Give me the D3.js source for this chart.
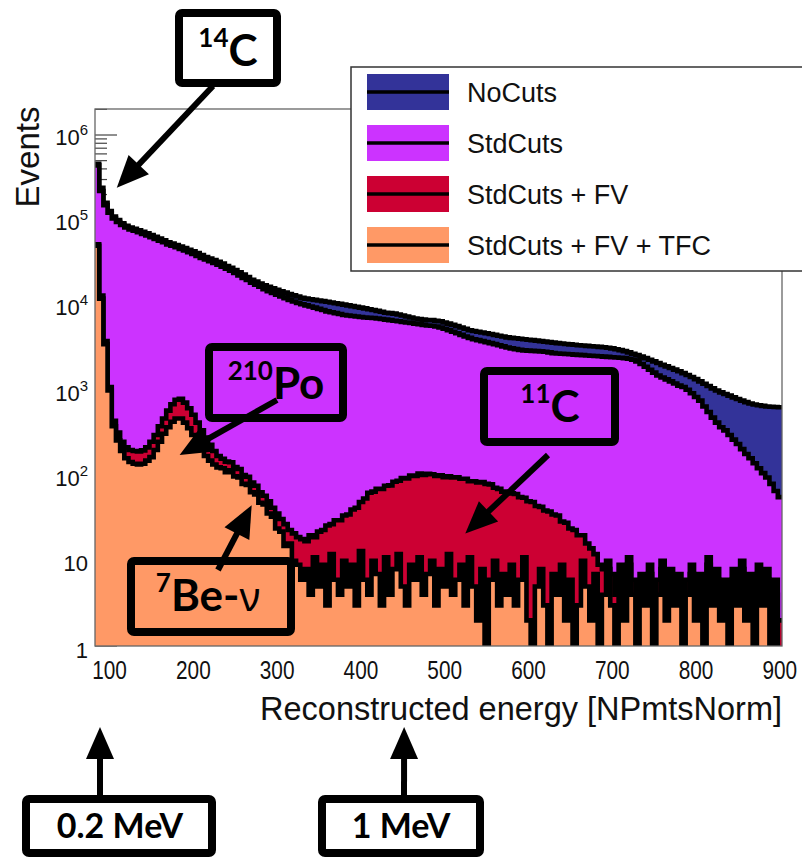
<!DOCTYPE html>
<html>
<head>
<meta charset="utf-8">
<script src="https://cdn.jsdelivr.net/npm/d3@7"></script>
<style>
  body { margin: 0; background: #fff; }
  svg text { font-family: "Liberation Sans", Arial, sans-serif; }
  .ann { font-family: Lato, "Open Sans", sans-serif; font-weight: bold; }
</style>
</head>
<body>
<svg id="chart" width="802" height="860"></svg>
<script>
// histogram binning (NPmtsNorm)
const binStart = 85, binWidth = 5;

// counts per 5-unit bin (164 bins, 85..905)
const noCuts = [
  4.6e5, 2.4e5, 1.6e5, 1.28e5, 1.1e5, 1.0e5, 9.2e4, 8.6e4, 8.2e4, 7.9e4,
  7.6e4, 7.3e4, 7.0e4, 6.7e4, 6.4e4, 6.1e4, 5.8e4, 5.5e4, 5.3e4, 5.1e4,
  4.9e4, 4.7e4, 4.5e4, 4.3e4, 4.1e4, 3.9e4, 3.7e4, 3.55e4, 3.4e4, 3.25e4,
  3.1e4, 2.9e4, 2.75e4, 2.6e4, 2.45e4, 2.3e4, 2.15e4, 2.0e4, 1.9e4, 1.8e4,
  1.72e4, 1.65e4, 1.58e4, 1.52e4, 1.46e4, 1.41e4, 1.36e4, 1.31e4, 1.27e4, 1.23e4,
  1.2e4, 1.18e4, 1.16e4, 1.14e4, 1.12e4, 1.1e4, 1.08e4, 1.06e4, 1.04e4, 1.02e4,
  1.0e4, 9.8e3, 9.6e3, 9.4e3, 9.2e3, 9.0e3, 8.8e3, 8.6e3, 8.4e3, 8.2e3,
  8.1e3, 8.0e3, 7.8e3, 7.6e3, 7.4e3, 7.2e3, 7.0e3, 6.9e3, 6.8e3, 6.7e3,
  6.7e3, 6.6e3, 6.5e3, 6.3e3, 6.1e3, 5.9e3, 5.7e3, 5.5e3, 5.3e3, 5.1e3,
  5.0e3, 4.9e3, 4.8e3, 4.7e3, 4.6e3, 4.5e3, 4.4e3, 4.3e3, 4.2e3, 4.15e3,
  4.1e3, 4.05e3, 4.0e3, 3.95e3, 3.9e3, 3.85e3, 3.8e3, 3.75e3, 3.7e3, 3.65e3,
  3.6e3, 3.56e3, 3.52e3, 3.48e3, 3.44e3, 3.4e3, 3.37e3, 3.34e3, 3.31e3, 3.28e3,
  3.25e3, 3.22e3, 3.18e3, 3.12e3, 3.05e3, 2.98e3, 2.9e3, 2.8e3, 2.7e3, 2.6e3,
  2.5e3, 2.4e3, 2.3e3, 2.2e3, 2.1e3, 2.0e3, 1.92e3, 1.84e3, 1.76e3, 1.68e3,
  1.6e3, 1.52e3, 1.44e3, 1.36e3, 1.28e3, 1.2e3, 1.13e3, 1.06e3, 1.0e3, 950,
  910, 870, 830, 795, 760, 730, 705, 685, 670, 660,
  650, 645, 640, 635
];
const stdCuts = [
  4.4e5, 2.2e5, 1.5e5, 1.22e5, 1.05e5, 9.5e4, 8.8e4, 8.2e4, 7.8e4, 7.5e4,
  7.2e4, 6.9e4, 6.6e4, 6.3e4, 6.0e4, 5.75e4, 5.5e4, 5.2e4, 5.0e4, 4.8e4,
  4.6e4, 4.4e4, 4.2e4, 4.0e4, 3.8e4, 3.6e4, 3.45e4, 3.3e4, 3.15e4, 3.0e4,
  2.85e4, 2.7e4, 2.55e4, 2.4e4, 2.25e4, 2.1e4, 1.98e4, 1.85e4, 1.75e4, 1.65e4,
  1.55e4, 1.47e4, 1.4e4, 1.33e4, 1.27e4, 1.21e4, 1.16e4, 1.11e4, 1.07e4, 1.03e4,
  1.0e4, 9.7e3, 9.4e3, 9.1e3, 8.8e3, 8.5e3, 8.3e3, 8.1e3, 7.9e3, 7.7e3,
  7.6e3, 7.5e3, 7.4e3, 7.3e3, 7.2e3, 7.15e3, 7.1e3, 7.0e3, 6.9e3, 6.8e3,
  6.7e3, 6.6e3, 6.5e3, 6.4e3, 6.3e3, 6.2e3, 6.1e3, 6.0e3, 5.9e3, 5.8e3,
  5.75e3, 5.65e3, 5.5e3, 5.3e3, 5.1e3, 4.9e3, 4.7e3, 4.5e3, 4.3e3, 4.15e3,
  4.0e3, 3.9e3, 3.8e3, 3.7e3, 3.6e3, 3.5e3, 3.4e3, 3.3e3, 3.2e3, 3.12e3,
  3.06e3, 3.0e3, 2.96e3, 2.94e3, 2.92e3, 2.9e3, 2.88e3, 2.85e3, 2.8e3, 2.75e3,
  2.72e3, 2.7e3, 2.68e3, 2.66e3, 2.64e3, 2.62e3, 2.6e3, 2.58e3, 2.56e3, 2.54e3,
  2.52e3, 2.5e3, 2.48e3, 2.46e3, 2.44e3, 2.42e3, 2.4e3, 2.36e3, 2.3e3, 2.2e3,
  2.05e3, 1.9e3, 1.75e3, 1.62e3, 1.5e3, 1.42e3, 1.35e3, 1.28e3, 1.21e3, 1.14e3,
  1.1e3, 1.02e3, 930, 840, 760, 650, 560, 480, 420, 370,
  340, 300, 265, 235, 205, 180, 160, 140, 122, 107,
  95, 80, 66, 56
];
const stdCutsFV = [
  5.2e4, 1.3e4, 3.8e3, 1.1e3, 440, 320, 250, 215, 200, 195,
  192, 198, 215, 250, 300, 380, 470, 580, 690, 780,
  800, 720, 620, 520, 420, 340, 280, 230, 195, 170,
  158, 146, 144, 126, 120, 102, 97, 83, 76, 64,
  58, 50, 42, 36, 31, 27, 23, 21, 19, 18,
  17, 20, 19, 22, 23, 26, 27, 30, 30, 34,
  35, 40, 42, 49, 54, 63, 65, 70, 70, 76,
  77, 85, 87, 94, 93, 100, 99, 106, 102, 105,
  104, 99, 101, 96, 98, 95, 96, 92, 92, 86,
  86, 83, 84, 80, 79, 72, 70, 65, 65, 62,
  61, 56, 55, 50, 49, 44, 43, 39, 38, 35,
  34, 29, 28, 24, 23, 20, 20, 16, 14, 12,
  9, 8, 10, 7, 4, 9, 5, 11, 6, 3,
  7, 5, 9, 3, 6, 10, 4, 8, 5, 7,
  3, 6, 9, 4, 7, 2, 11, 5, 8, 4,
  6, 2, 8, 5, 10, 4, 7, 3, 9, 5,
  8, 3, 6, 2
];
const stdCutsFVTFC = [
  5.0e4, 1.2e4, 3.5e3, 1.0e3, 380, 260, 195, 160, 145, 138,
  135, 138, 150, 165, 200, 250, 310, 370, 430, 470,
  470, 420, 360, 300, 250, 205, 170, 150, 135, 125,
  122, 110, 116, 98, 95, 80, 78, 64, 60, 48,
  46, 36, 33, 24, 22, 15, 16, 10, 9, 6,
  8, 4, 11, 5, 9, 3, 12, 6, 4, 10,
  5, 9, 3, 13, 6, 4, 10, 7, 3, 11,
  4, 8, 12, 5, 3, 9, 6, 11, 4, 7,
  10, 3, 8, 5, 12, 4, 6, 9, 3, 11,
  5, 2, 8, 0, 6, 10, 3, 7, 4, 9,
  3, 6, 11, 2, 0, 5, 8, 3, 0, 7,
  4, 9, 2, 6, 0, 3, 10, 5, 2, 7,
  0, 4, 8, 3, 0, 6, 2, 9, 4, 0,
  5, 3, 7, 0, 4, 8, 2, 6, 3, 5,
  0, 4, 7, 2, 5, 0, 9, 3, 6, 2,
  4, 0, 6, 3, 8, 2, 5, 0, 7, 3,
  6, 0, 4, 0
];

const legendLabels = ["NoCuts", "StdCuts", "StdCuts + FV", "StdCuts + FV + TFC"];
const seriesColors = ["#333399", "#cc33ff", "#cc0033", "#ff9966"];
const xTicks = [100, 200, 300, 400, 500, 600, 700, 800, 900];
const yTicks = [1, 10, 100, 1e3, 1e4, 1e5, 1e6];

var svg = d3.select("#chart"),
    margin = {top: 109, left: 95, bottom: 214, right: 20},
    width = 802 - margin.left - margin.right,
    height = 860 - margin.top - margin.bottom;

var x = d3.scaleLinear().domain([85, 905]).range([margin.left, margin.left + width]);
var y = d3.scaleLog().domain([1, 2.02e6]).range([margin.top + height, margin.top]);
var yBottom = margin.top + height;

var edges = d3.range(noCuts.length + 1).map(i => binStart + i * binWidth);

// axis ticks first: the filled histograms cover most of them
var ticks = svg.append("g").attr("stroke", "#444").attr("stroke-width", 1.2);
var yMinor = [];
yTicks.forEach(d => { for (let k = 2; k <= 9; k++) if (d * k < y.domain()[1]) yMinor.push(d * k); });
ticks.selectAll(".ymaj").data(yTicks).join("line")
    .attr("x1", margin.left).attr("x2", margin.left + 22)
    .attr("y1", d => y(d)).attr("y2", d => y(d));
ticks.selectAll(".ymin").data(yMinor).join("line")
    .attr("x1", margin.left).attr("x2", margin.left + 12)
    .attr("y1", d => y(d)).attr("y2", d => y(d));
ticks.selectAll(".xmaj").data(xTicks).join("line")
    .attr("x1", d => x(d)).attr("x2", d => x(d))
    .attr("y1", yBottom).attr("y2", yBottom - 16);

svg.append("clipPath").attr("id", "plotClip").append("rect")
    .attr("x", margin.left).attr("y", margin.top).attr("width", width).attr("height", height);

function stepPoints(vals) {
    var pts = [];
    vals.forEach(function(v, i) {
        var yy = v > 0 ? y(v) : yBottom + 6;
        pts.push([x(edges[i]), yy], [x(edges[i + 1]), yy]);
    });
    return pts;
}

var area = d3.area().x(d => d[0]).y0(yBottom).y1(d => d[1]);
var line = d3.line().x(d => d[0]).y(d => d[1]);

var series = [noCuts, stdCuts, stdCutsFV, stdCutsFVTFC];
var hist = svg.append("g").attr("clip-path", "url(#plotClip)");
series.forEach(function(vals, i) {
    var pts = stepPoints(vals);
    hist.append("path").attr("d", area(pts)).attr("fill", seriesColors[i]);
    hist.append("path").attr("d", line(pts))
        .attr("fill", "none").attr("stroke", "#000")
        .attr("stroke-width", 4.6).attr("stroke-linejoin", "miter");
});

// frame
var frame = svg.append("g").attr("stroke", "#666").attr("stroke-width", 1.3).attr("fill", "none");
frame.append("rect").attr("x", margin.left).attr("y", margin.top).attr("width", width).attr("height", height);

// tick labels
var yLab = svg.append("g").attr("font-size", 22).attr("fill", "#111").attr("text-anchor", "end");
yTicks.forEach(function(d) {
    var e = Math.round(Math.log10(d));
    var t = yLab.append("text").attr("x", margin.left - 7).attr("y", y(d) + (d === 1 ? 12 : 10));
    if (e <= 1) { t.text(String(d)); return; }
    t.append("tspan").text("10");
    t.append("tspan").attr("font-size", 15).attr("dy", -10).text(e);
});

svg.append("g").selectAll("text").data(xTicks).join("text")
    .attr("transform", d => `translate(${x(d) + 2},${yBottom + 33}) scale(0.8,1)`)
    .attr("text-anchor", "middle").attr("font-size", 26).attr("fill", "#111")
    .text(d => d);

svg.append("text")
    .attr("x", margin.left + width).attr("y", yBottom + 74)
    .attr("text-anchor", "end").attr("font-size", 32.5).attr("fill", "#111")
    .text("Reconstructed energy [NPmtsNorm]");

svg.append("text")
    .attr("transform", `translate(39,${margin.top + 48}) rotate(-90)`)
    .attr("text-anchor", "middle").attr("font-size", 33).attr("fill", "#111")
    .text("Events");

// legend
var legend = svg.append("g");
legend.append("rect").attr("x", 351).attr("y", 67).attr("width", 470).attr("height", 204)
    .attr("fill", "#fff").attr("stroke", "#333").attr("stroke-width", 1.5);
var rows = legend.selectAll(".legend").data(legendLabels).join("g")
    .attr("transform", (d, i) => `translate(0,${92 + i * 51})`);
rows.append("rect").attr("x", 367).attr("y", -18).attr("width", 82).attr("height", 36)
    .attr("fill", (d, i) => seriesColors[i]);
rows.append("line").attr("x1", 367).attr("x2", 449).attr("y1", 0).attr("y2", 0)
    .attr("stroke", "#000").attr("stroke-width", 3.5);
rows.append("text").attr("x", 467).attr("y", 10).attr("font-size", 27).attr("fill", "#111")
    .text(d => d);

// annotations
var ann = svg.append("g");

function arrow(x1, y1, x2, y2) {
    var head = 32, half = 14;
    var dx = x2 - x1, dy = y2 - y1, len = Math.hypot(dx, dy);
    var ux = dx / len, uy = dy / len;
    var bx = x2 - ux * head, by = y2 - uy * head;
    ann.append("line").attr("x1", x1).attr("y1", y1).attr("x2", bx + ux * 4).attr("y2", by + uy * 4)
        .attr("stroke", "#000").attr("stroke-width", 6);
    ann.append("path")
        .attr("d", `M${x2},${y2}L${bx - uy * half},${by + ux * half}L${bx + uy * half},${by - ux * half}Z`)
        .attr("fill", "#000");
}

function box(bx, by, bw, bh) {
    ann.append("rect").attr("x", bx).attr("y", by).attr("width", bw).attr("height", bh)
        .attr("rx", 3).attr("fill", "none").attr("stroke", "#000").attr("stroke-width", 8);
}

function isotope(cx, base, sup, main, extra) {
    var t = ann.append("text").attr("class", "ann").attr("x", cx).attr("y", base)
        .attr("text-anchor", "middle").attr("fill", "#000");
    t.append("tspan").attr("font-size", 26).attr("dy", -19).text(sup);
    t.append("tspan").attr("font-size", 44).attr("dy", 19).text(main);
    if (extra) t.append("tspan").attr("font-size", 40).attr("font-weight", "normal")
        .attr("font-family", "'Noto Sans', sans-serif").text(extra);
}

// 14C
box(179, 13, 98, 70);
isotope(228, 66, "14", "C");
arrow(213, 86, x(111), y(2.4e5));

// 210Po
box(209, 347, 134, 71);
isotope(276, 399, "210", "Po");
arrow(277, 400, x(186), y(175));

// 7Be-nu
box(131, 561, 160, 71);
isotope(208, 611, "7", "Be-", "ν");
arrow(218, 570, x(272), y(45));

// 11C
box(484, 371, 131, 71);
isotope(550, 422, "11", "C");
arrow(548, 455, x(527), y(21));

// energy markers below the axis
box(26, 799, 186, 54);
ann.append("text").attr("class", "ann").attr("x", 120).attr("y", 838)
    .attr("text-anchor", "middle").attr("font-size", 34).text("0.2 MeV");
arrow(100, 797, x(91), 727);

box(322, 799, 158, 54);
ann.append("text").attr("class", "ann").attr("x", 401).attr("y", 838)
    .attr("text-anchor", "middle").attr("font-size", 34).text("1 MeV");
arrow(404, 797, x(454), 727);
</script>
</body>
</html>
